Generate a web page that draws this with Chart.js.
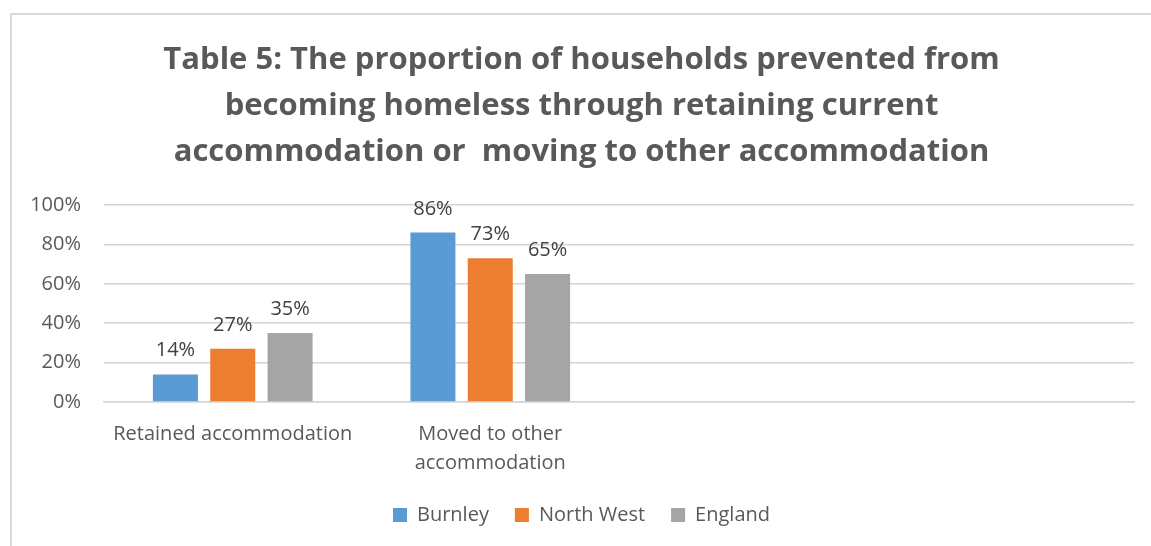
<!DOCTYPE html>
<html>
<head>
<meta charset="utf-8">
<script src="https://cdn.jsdelivr.net/npm/chart.js@4/dist/chart.umd.min.js"></script>
<style>
  html, body { margin: 0; padding: 0; background: #ffffff; overflow: hidden; }
  #frame { position: absolute; left: 10px; top: 13px; right: 0; bottom: 0;
           border-left: 2px solid #d9d9d9; border-top: 2px solid #d9d9d9; }
  #wrap { position: absolute; left: 0; top: 0; width: 1151px; height: 546px; }
</style>
</head>
<body>
<div id="frame"></div>
<div id="wrap"><canvas id="chart"></canvas></div>
<script>
// Categories (two trailing empty slots keep the plot wide, as in the source workbook)
const categories = ['Retained accommodation', ['Moved to other', 'accommodation'], '', ''];

// Percentage of prevented households, per area
const burnley   = [14, 86, null, null];
const northWest = [27, 73, null, null];
const england   = [35, 65, null, null];

const seriesNames = ['Burnley', 'North West', 'England'];
const seriesColors = ['#5b9bd5', '#ed7d31', '#a5a5a5'];

const yMin = 0, yMax = 100, yStep = 20;

const titleLines = [
  'Table 5: The proportion of households prevented from',
  'becoming homeless through retaining current',
  'accommodation or  moving to other accommodation'
];

const FONT = '"Open Sans", "DejaVu Sans", sans-serif';

// Draws each bar's value above it
const valueLabels = {
  id: 'valueLabels',
  afterDatasetsDraw(chart) {
    const ctx = chart.ctx;
    ctx.save();
    ctx.font = '20px ' + FONT;
    ctx.fillStyle = '#404040';
    ctx.textAlign = 'center';
    ctx.textBaseline = 'alphabetic';
    chart.data.datasets.forEach((ds, i) => {
      const meta = chart.getDatasetMeta(i);
      meta.data.forEach((bar, j) => {
        const v = ds.data[j];
        if (v === null || v === undefined) return;
        ctx.fillText(v + '%', bar.x, bar.y - 18);
      });
    });
    ctx.restore();
  }
};

const datasets = [burnley, northWest, england].map((values, i) => ({
  label: seriesNames[i],
  data: values,
  backgroundColor: seriesColors[i],
  borderWidth: 0,
  categoryPercentage: 0.668,
  barPercentage: 0.785
}));

new Chart(document.getElementById('chart'), {
  type: 'bar',
  data: { labels: categories, datasets },
  plugins: [valueLabels],
  options: {
    responsive: true,
    maintainAspectRatio: false,
    animation: false,
    layout: { padding: { left: 29, right: 17, top: 0, bottom: 11 } },
    plugins: {
      tooltip: { enabled: false },
      title: {
        display: true,
        text: titleLines,
        color: '#595959',
        font: { family: FONT, size: 31, weight: 'bold', lineHeight: 46 / 31 },
        padding: { top: 37, bottom: 30 }
      },
      legend: {
        position: 'bottom',
        labels: {
          color: '#595959',
          font: { family: FONT, size: 20 },
          boxWidth: 14,
          boxHeight: 14,
          padding: 26
        }
      }
    },
    scales: {
      x: {
        grid: { display: false, drawTicks: false },
        border: { display: true, color: '#d4d4d4', width: 1.5 },
        ticks: {
          color: '#595959',
          font: { family: FONT, size: 20, lineHeight: 29 / 20 },
          padding: 18,
          maxRotation: 0,
          autoSkip: false
        },
        afterFit(scale) { scale.height = scale.height - 17; }
      },
      y: {
        min: yMin,
        max: yMax,
        grid: { color: '#d4d4d4', lineWidth: 1.5, drawTicks: false },
        border: { display: false },
        ticks: {
          stepSize: yStep,
          color: '#595959',
          font: { family: FONT, size: 20 },
          padding: 23,
          callback: v => v + '%'
        },
        afterFit(scale) { scale.width = 75; }
      }
    }
  }
});
</script>
</body>
</html>
